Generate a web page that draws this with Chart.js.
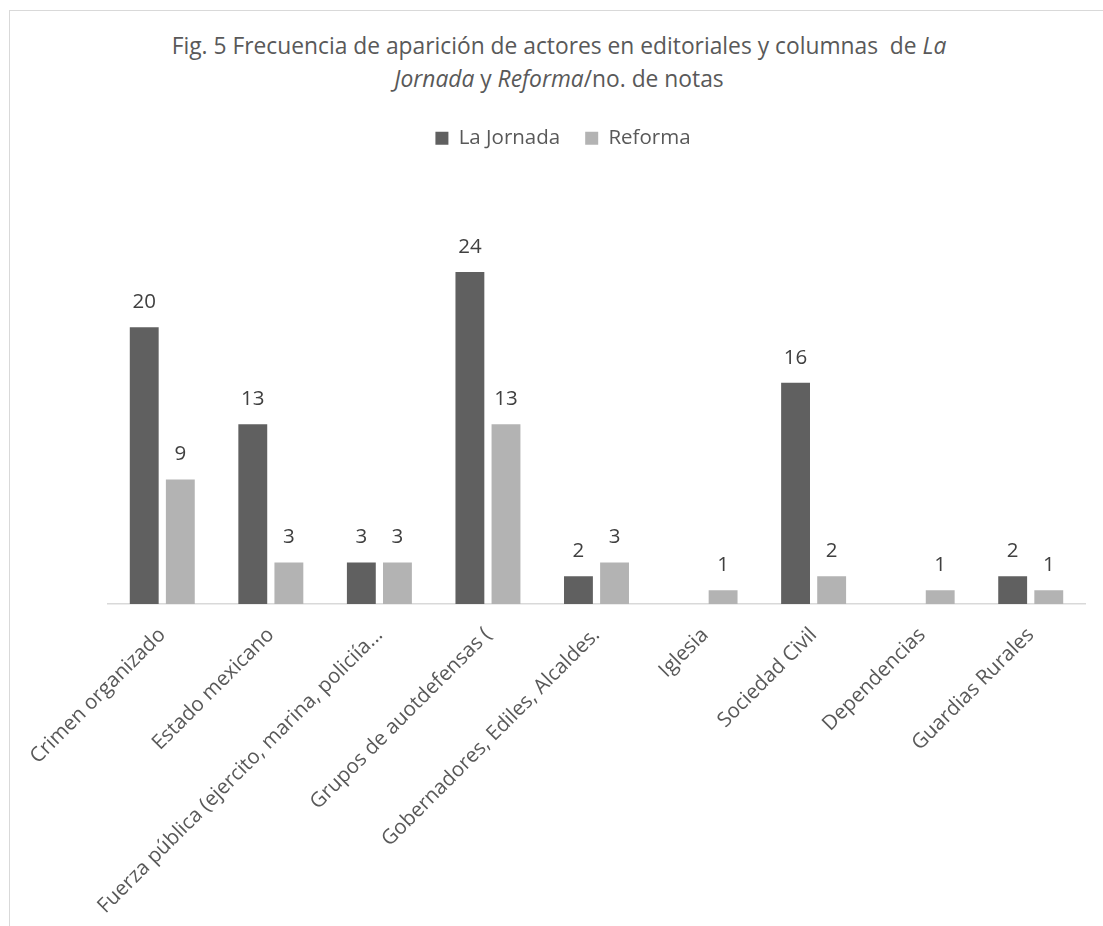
<!DOCTYPE html>
<html>
<head>
<meta charset="utf-8">
<script src="https://cdn.jsdelivr.net/npm/chart.js@4.4.1/dist/chart.umd.min.js"></script>
<style>
  html, body { margin: 0; padding: 0; background: #fff; }
  body { width: 1103px; height: 926px; position: relative; overflow: hidden; font-family: "Open Sans", sans-serif; }
  #frame { position: absolute; left: 9px; top: 10px; width: 1200px; height: 1000px; border-left: 1.5px solid #d9d9d9; border-top: 1.5px solid #d9d9d9; box-sizing: border-box; }
  #title { position: absolute; left: 0; top: 30px; width: 1118px; text-align: center; font-size: 22.8px; line-height: 32.5px; color: #595959; white-space: nowrap; }
  #wrap { position: absolute; left: 0; top: 0; width: 1103px; height: 926px; }
</style>
</head>
<body>
<div id="frame"></div>
<div id="title">Fig. 5 Frecuencia de aparición de actores en editoriales y columnas&nbsp; de <i>La</i><br><i>Jornada</i> y <i>Reforma</i>/no. de notas</div>
<div id="wrap"><canvas id="c" width="1103" height="926"></canvas></div>
<script>
const categories = [
  "Crimen organizado",
  "Estado mexicano",
  "Fuerza pública (ejercito, marina, policiía...",
  "Grupos de auotdefensas (",
  "Gobernadores, Ediles, Alcaldes.",
  "Iglesia",
  "Sociedad Civil",
  "Dependencias",
  "Guardias Rurales"
];
const laJornada = [20, 13, 3, 24, 2, null, 16, null, 2];
const reforma = [9, 3, 3, 13, 3, 1, 2, 1, 1];
const seriesNames = ["La Jornada", "Reforma"];

const dataLabels = {
  id: 'dataLabels',
  afterDatasetsDraw(chart) {
    const ctx = chart.ctx;
    ctx.save();
    ctx.font = '20.5px "Open Sans"';
    ctx.fillStyle = '#404040';
    ctx.textAlign = 'center';
    ctx.textBaseline = 'alphabetic';
    chart.data.datasets.forEach((ds, i) => {
      const meta = chart.getDatasetMeta(i);
      meta.data.forEach((bar, j) => {
        const v = ds.data[j];
        if (v === null || v === undefined) return;
        ctx.fillText(String(v), bar.x, bar.y - 19);
      });
    });
    ctx.restore();
  }
};

new Chart(document.getElementById('c'), {
  type: 'bar',
  data: {
    labels: categories,
    datasets: [
      { label: seriesNames[0], data: laJornada, backgroundColor: '#606060', categoryPercentage: 0.665, barPercentage: 0.8 },
      { label: seriesNames[1], data: reforma, backgroundColor: '#b3b3b3', categoryPercentage: 0.665, barPercentage: 0.8 }
    ]
  },
  options: {
    responsive: false,
    animation: false,
    devicePixelRatio: 1,
    layout: { padding: { left: 41, right: 18, top: 103, bottom: 0 } },
    plugins: {
      title: { display: false },
      tooltip: { enabled: false },
      legend: {
        position: 'top',
        labels: {
          boxWidth: 13, boxHeight: 13, padding: 25,
          color: '#595959',
          font: { family: '"Open Sans"', size: 20.5 }
        }
      }
    },
    scales: {
      x: {
        grid: { display: false },
        border: { display: true, color: '#d9d9d9', width: 1.5 },
        ticks: {
          color: '#595959',
          font: { family: '"Open Sans"', size: 20.5 },
          maxRotation: 45, minRotation: 45, autoSkip: false, padding: 11
        },
        afterFit(s) { s.height = 322; }
      },
      y: {
        min: 0, max: 32.2,
        display: true,
        grid: { display: false },
        border: { display: false },
        ticks: { display: false },
        afterFit(s) { s.width = 67; }
      }
    }
  },
  plugins: [dataLabels]
});
</script>
</body>
</html>
